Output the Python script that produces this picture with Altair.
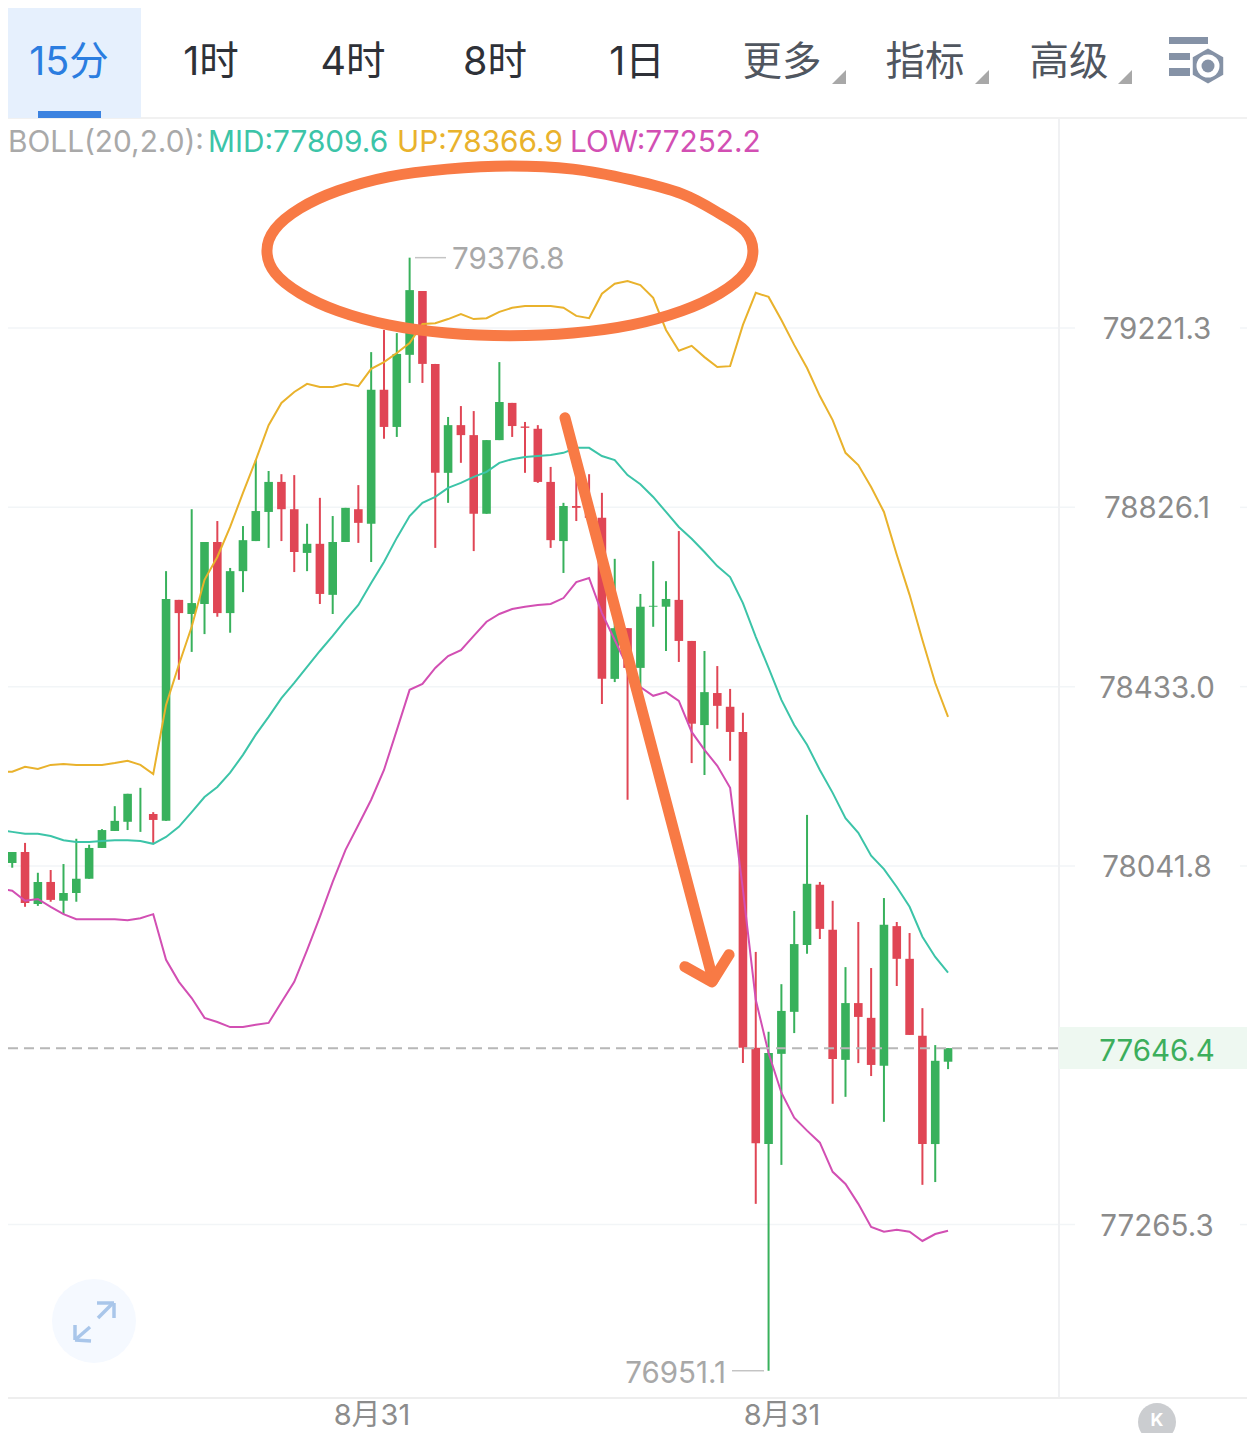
import altair as alt
import pandas as pd

# ---- data (prices) ----
candle_open = [78038,78048,78072,77959,78007,77966,77983,78014,78081,78118,78138,78155,78155,78140,78623,78592,78614,78750,78594,78686,78752,78816,78882,78822,78726,78746,78634,78750,78822,78790,79085,79003,79162,79303,79142,78902,79007,78985,78812,78974,79056,79004,78999,78882,78752,78829,78827,78803,78450,78561,78474,78608,78608,78623,78533,78349,78419,78389,78334,77647,77439,77634,77725,77870,78001,77903,77621,77744,77712,77608,77911,77840,77673,77439,77617]
candle_close = [78048,78072,77961,78007,77968,77983,78014,78081,78120,78140,78199,78155,78142,78625,78594,78616,78750,78594,78686,78754,78818,78882,78822,78728,78746,78636,78750,78825,78792,79085,79003,79164,79305,79142,78902,79007,78985,78812,78974,79058,79005,79001,78882,78754,78829,78825,78803,78450,78561,78474,78608,78610,78625,78533,78352,78421,78391,78334,77647,77441,77636,77727,77872,78003,77905,77623,77744,77714,77610,77914,77840,77675,77439,77619,77646.4]
candle_high = [78062,78072,78092,78027,78033,78046,78101,78088,78122,78172,78199,78212,78159,78686,78623,78822,78750,78796,78693,78785,78930,78906,78899,78897,78790,78847,78807,78825,78875,79168,79217,79210,79376.8,79303,79142,79025,79049,79038,78974,79146,79056,79014,79007,78915,78836,78908,78899,78858,78713,78561,78636,78708,78664,78774,78533,78511,78478,78428,78376,77855,77682,77785,77944,78153,78007,77966,77822,77920,77820,77972,77920,77896,77733,77653,77646.4]
candle_low = [78001,78038,77953,77955,77964,77937,77964,78014,78081,78118,78120,78116,78092,78140,78448,78509,78548,78586,78551,78640,78752,78737,78752,78684,78686,78614,78592,78750,78748,78706,78977,78981,79100,79100,78737,78836,78924,78730,78812,78974,78981,78902,78880,78737,78682,78796,78794,78395,78443,78186,78432,78564,78511,78487,78266,78240,78341,78271,77614,77310,76951.1,77394,77679,77851,77883,77526,77541,77614,77586,77487,77781,77675,77351,77357,77601]

boll_up = [78247,78247,78258,78253,78262,78264,78262,78262,78262,78266,78271,78262,78242,78393,78481,78564,78667,78717,78783,78858,78930,79007,79056,79080,79098,79091,79091,79098,79093,79131,79146,79166,79188,79230,79232,79241,79252,79241,79243,79257,79266,79270,79270,79270,79266,79248,79243,79297,79319,79325,79316,79288,79217,79171,79182,79157,79135,79137,79228,79299,79290,79239,79184,79133,79071,79018,78946,78919,78871,78816,78722,78634,78535,78441,78367]
boll_mid = [78120,78116,78112,78112,78107,78098,78094,78094,78096,78098,78098,78096,78090,78105,78127,78159,78192,78214,78245,78284,78328,78367,78408,78441,78476,78511,78544,78579,78612,78660,78706,78759,78807,78836,78849,78869,78880,78893,78904,78924,78932,78937,78939,78941,78946,78957,78957,78939,78930,78897,78877,78849,78816,78783,78757,78728,78697,78673,78616,78542,78474,78404,78349,78306,78251,78201,78146,78114,78064,78035,77996,77953,77888,77844,77810]
boll_low = [77992,77988,77966,77970,77953,77937,77926,77926,77926,77926,77924,77928,77937,77838,77790,77755,77712,77703,77692,77692,77697,77701,77746,77790,77859,77931,78007,78077,78131,78186,78251,78338,78426,78439,78474,78500,78513,78544,78575,78592,78603,78608,78612,78614,78627,78662,78671,78594,78535,78476,78432,78413,78421,78402,78334,78295,78260,78212,77990,77751,77636,77550,77496,77468,77442,77379,77353,77310,77260,77250,77254,77250,77230,77245,77252]

grid_prices = [79221.3, 78826.1, 78433.0, 78041.8, 77265.3]
grid_labels = ["79221.3", "78826.1", "78433.0", "78041.8", "77265.3"]
last_price = 77646.4
peak_price = 79376.8
trough_price = 76951.1

ring_idx = [58.78,58.16,56.21,53.24,49.31,44.74,39.83,34.91,30.35,26.41,23.45,21.50,20.87,21.50,23.45,26.41,30.35,34.91,39.83,44.74,49.31,53.24,56.21,58.16]
ring_price = [79392,79343,79298,79259,79228,79210,79204,79210,79228,79259,79298,79343,79392,79440,79486,79525,79556,79573,79580,79573,79549,79518,79474,79436]
arrow_idx = [44.12,55.67]
arrow_price = [79023,77794]
head_idx = [53.47,55.59,56.92]
head_price = [77823,77790,77849]

tabs = ["1时","4时","8时","1日","更多","指标","高级"]

RED, GREEN = "#e04655", "#38b15c"
OFF = 8
FONT = "Inter, 'Noto Sans CJK SC'"
LATIN = "Inter"
ONE = alt.Data(values=[{"a": 1}])

xs = alt.Scale(type="linear", domain=[0.671, 97.32], nice=False, zero=False, padding=0)
ys = alt.Scale(type="log", domain=[76817.6, 79931.3], nice=False, zero=False, padding=0)
X = lambda f: alt.X(f, type="quantitative", scale=xs, axis=None)
Y = lambda f: alt.Y(f, type="quantitative", scale=ys, axis=None)

n = len(candle_open)
df = pd.DataFrame({
    "i": range(n), "o": candle_open, "c": candle_close,
    "h": candle_high, "l": candle_low,
})
df["kind"] = ["up" if c >= o else "down" for o, c in zip(candle_open, candle_close)]
color = alt.Color("kind:N", scale=alt.Scale(domain=["up", "down"], range=[GREEN, RED]), legend=None)

def v(p):
    return alt.value(p - OFF)

def box(x0, x1, y0, y1, fill):
    return alt.Chart(ONE).mark_rect(color=fill).encode(x=v(x0), x2=v(x1), y=v(y0), y2=v(y1))

def seg(x0, y0, x1, y1, col, w=2, **kw):
    return alt.Chart(ONE).mark_rule(color=col, strokeWidth=w, **kw).encode(x=v(x0), x2=v(x1), y=v(y0), y2=v(y1))

def txt(s, x, y, col, size=30, align="center", font=FONT, **kw):
    return alt.Chart(ONE).mark_text(text=s, color=col, fontSize=size, align=align,
                                    baseline="middle", font=font, **kw).encode(x=v(x), y=v(y))

def dot(x, y, d, col):
    return alt.Chart(ONE).mark_circle(color=col, opacity=1).encode(x=v(x), y=v(y), size=alt.value(d * d))

def shape(path, x, y, d, col):
    return alt.Chart(ONE).mark_point(shape=path, filled=True, color=col, opacity=1, strokeWidth=0).encode(
        x=v(x), y=v(y), size=alt.value(d * d))

layers = []

# --- grid and frame ---
grid_df = pd.DataFrame({"p": grid_prices, "t": grid_labels})
layers.append(alt.Chart(grid_df).mark_rule(color="#f2f5f7", strokeWidth=1.5).encode(
    y=Y("p"), x=v(8), x2=v(1075)))
layers.append(alt.Chart(grid_df).mark_rule(color="#f2f5f7", strokeWidth=1.5).encode(
    y=Y("p"), x=v(1240), x2=v(1247)))
layers.append(seg(1059, 118, 1059, 1398, "#f0f1f3"))
layers.append(seg(8, 118, 1247, 118, "#f1f1f1"))
layers.append(seg(8, 1398, 1247, 1398, "#eeeeee"))

# --- last price band ---
layers.append(box(1059, 1247, 1027, 1069, "#eef8f1"))

# --- candles ---
layers.append(alt.Chart(df).mark_rule(strokeWidth=2, clip=True).encode(
    x=X("i"), y=Y("l"), y2="h:Q", color=color))
layers.append(alt.Chart(df).mark_bar(size=8.6, clip=True).encode(
    x=X("i"), y=Y("o"), y2="c:Q", color=color))

# --- Bollinger lines ---
for series, col in ((boll_up, "#e9b22c"), (boll_mid, "#3cc4a8"), (boll_low, "#d24fb3")):
    line_df = pd.DataFrame({"i": range(n), "p": series})
    layers.append(alt.Chart(line_df).mark_line(color=col, strokeWidth=2, clip=True).encode(
        x=X("i"), y=Y("p")))

# --- last price dashed line ---
layers.append(alt.Chart(pd.DataFrame({"p": [last_price]})).mark_rule(
    color="#b7b7b7", strokeWidth=2, strokeDash=[10, 6]).encode(y=Y("p"), x=v(8), x2=v(1059)))

# --- hand drawn annotations ---
ORANGE = "#f87a45"
ring_df = pd.DataFrame({"i": ring_idx, "p": ring_price, "o": range(len(ring_idx))})
layers.append(alt.Chart(ring_df).mark_line(color=ORANGE, strokeWidth=11, interpolate="cardinal-closed").encode(
    x=X("i"), y=Y("p"), order="o:Q"))
layers.append(alt.Chart(pd.DataFrame({"i": arrow_idx, "p": arrow_price})).mark_line(
    color=ORANGE, strokeWidth=11, strokeCap="round").encode(x=X("i"), y=Y("p")))
head_df = pd.DataFrame({"i": head_idx, "p": head_price, "o": range(3)})
layers.append(alt.Chart(head_df).mark_line(color=ORANGE, strokeWidth=11, strokeCap="round", strokeJoin="round").encode(
    x=X("i"), y=Y("p"), order="o:Q"))

# --- y labels ---
layers.append(alt.Chart(grid_df).mark_text(color="#8b8b8b", fontSize=29.5, font=LATIN, dy=2).encode(
    y=Y("p"), x=v(1157), text="t:N"))
layers.append(alt.Chart(pd.DataFrame({"p": [last_price], "t": ["77646.4"]})).mark_text(
    color="#3cae5c", fontSize=29.5, font=LATIN, dy=4).encode(y=Y("p"), x=v(1157), text="t:N"))

# --- extreme labels ---
peak = pd.DataFrame({"p": [peak_price], "t": ["79376.8"]})
layers.append(alt.Chart(peak).mark_rule(color="#c4c4c4", strokeWidth=1.5).encode(y=Y("p"), x=v(415), x2=v(446)))
layers.append(alt.Chart(peak).mark_text(color="#a8a8a8", fontSize=29.5, font=LATIN, align="left", dy=2).encode(
    y=Y("p"), x=v(452), text="t:N"))
trough = pd.DataFrame({"p": [trough_price], "t": ["76951.1"]})
layers.append(alt.Chart(trough).mark_rule(color="#c4c4c4", strokeWidth=1.5).encode(y=Y("p"), x=v(732), x2=v(764)))
layers.append(alt.Chart(trough).mark_text(color="#a8a8a8", fontSize=29.5, font=LATIN, align="right", dy=3).encode(
    y=Y("p"), x=v(726), text="t:N"))

# --- header ---
layers.append(box(8, 141, 8, 118, "#e6f0fd"))
layers.append(box(38, 101, 111, 118, "#3b82e0"))
layers.append(txt("15分", 69, 63, "#2b7de0", 39.5))
tab_x = [211, 353, 495, 637, 782, 925, 1069]
tab_col = ["#2e3138"] * 4 + ["#50565f"] * 3
for s, x, c in zip(tabs, tab_x, tab_col):
    layers.append(txt(s, x, 63, c, 39.5))
TRI = "M 1 -1 L 1 1 L -1 1 Z"
for x in (839, 982, 1125):
    layers.append(shape(TRI, x, 77, 14, "#a8a8a8"))

# settings icon
ICON = "#8592a6"
layers.append(box(1169, 1208, 37, 44, ICON))
layers.append(box(1169, 1190, 53, 60, ICON))
layers.append(box(1169, 1190, 68, 76, ICON))
layers.append(shape("M 0 -1 L 0.87 -0.5 L 0.87 0.5 L 0 1 L -0.87 0.5 L -0.87 -0.5 Z", 1208, 66, 35, ICON))
layers.append(dot(1208, 66, 23, "#ffffff"))
layers.append(dot(1208, 66, 13, ICON))

# --- indicator legend line ---
for s, x, c in (("BOLL(20,2.0):", 8, "#a9a9a9"), ("MID:77809.6", 208, "#3cc4a8"),
                ("UP:78366.9", 397, "#e9b22c"), ("LOW:77252.2", 570, "#d24fb3")):
    layers.append(txt(s, x, 143, c, 29.8, align="left", font=LATIN))

# --- dates ---
for x in (372, 782):
    layers.append(txt("8月31", x, 1416, "#8c8c8c", 29))

# --- expand button ---
layers.append(dot(94, 1321, 84, "#f5f9ff"))
A = "#a9c6ea"
for a in ((98, 1318, 113, 1303), (97, 1303, 114, 1303), (114, 1303, 114, 1318),
          (90, 1327, 75, 1340), (75, 1325, 75, 1340), (75, 1340, 91, 1341)):
    layers.append(seg(*a, A, 3.5))

# --- jump button ---
layers.append(dot(1157, 1422, 38, "#cbcdd0"))
layers.append(txt("K", 1157, 1421, "#ffffff", 18, fontWeight="bold"))

chart = alt.layer(*layers).properties(
    width=1239, height=1425, padding=0,
    autosize=alt.AutoSizeParams(type="none"),
    background="#ffffff",
).configure_view(stroke=None)

chart.save("out.html", embed_options={"renderer": "svg", "actions": False})
